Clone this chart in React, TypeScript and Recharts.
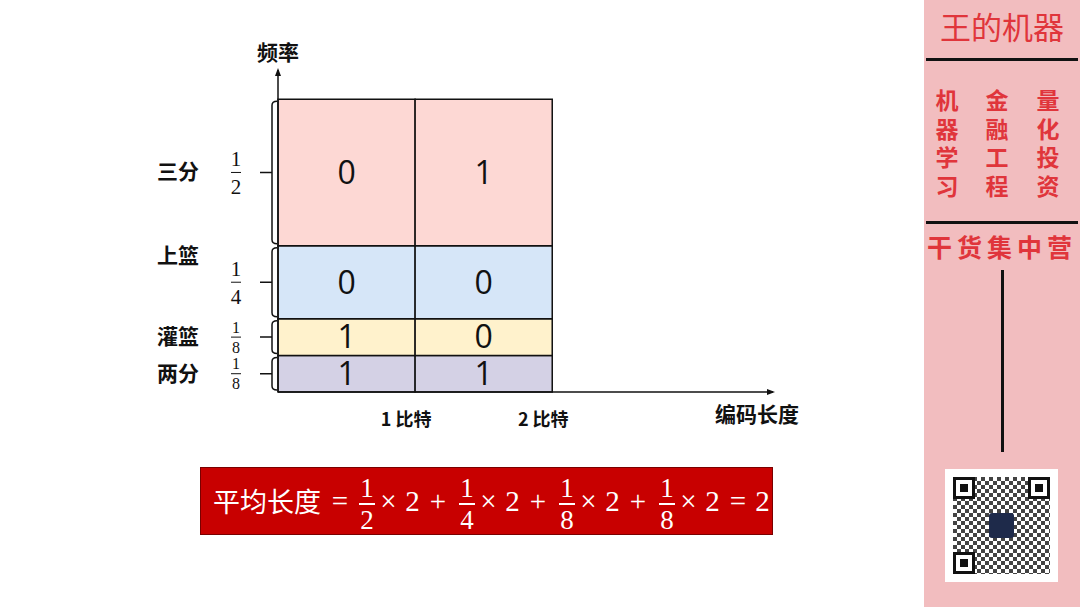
import React from 'react';
import { ComposedChart, XAxis, YAxis, ReferenceArea, ReferenceDot } from 'recharts';

// rows listed bottom -> top
const categories = ['两分', '灌篮', '上篮', '三分'];
const frequencies = [1 / 8, 1 / 8, 1 / 4, 1 / 2];
const freqNumerators = ['1', '1', '1', '1'];
const freqDenominators = ['8', '8', '4', '2'];
const firstBit = ['1', '1', '0', '0'];
const secondBit = ['1', '0', '0', '1'];
const codeLengths = [2, 2, 2, 2];
const bitTicks = [1, 2];
const bitTickLabels = ['1 比特', '2 比特'];

const rowColors = ['#D4D1E5', '#FFF2CC', '#D6E6F8', '#FDD8D4'];
const X_MAX = 3.61;
const Y_MAX = 1.1;
const CJK = '"Noto Sans CJK SC", "Noto Sans", sans-serif';
const MATH = '"Liberation Serif", "DejaVu Serif", serif';

const rowStarts = frequencies.map((_, i) => frequencies.slice(0, i).reduce((a, b) => a + b, 0));
const rows = categories.map((name, i) => ({
  name,
  y1: rowStarts[i],
  y2: rowStarts[i] + frequencies[i],
  bits: [firstBit[i], secondBit[i]],
}));
const avgLength = frequencies.reduce((s, f, i) => s + f * codeLengths[i], 0);

const BitTick = (props: any) => {
  const { x, y, payload } = props;
  const idx = bitTicks.indexOf(payload.value);
  return (
    <text x={x - 9} y={y + 32} textAnchor="middle" fontSize={18} fontWeight="bold" fontFamily={CJK} fill="#111">
      {bitTickLabels[idx]}
    </text>
  );
};

// bracket + fraction + category name, left of each row
const rowAnnotation = (i: number) => (props: any) => {
  const { x, y, height } = props;
  const top = y + 2;
  const bottom = y + height - 2;
  const mid = y + height / 2;
  const bx = x - 6;
  const big = frequencies[i] > 0.2;
  const fs = big ? 21 : 16;
  const gap = big ? 14 : 10;
  const nameY = i === 2 ? y + 10 : mid;
  return (
    <g>
      <path
        d={`M${bx + 5},${top} Q${bx},${top} ${bx},${top + 4} L${bx},${bottom - 4} Q${bx},${bottom} ${bx + 5},${bottom} M${bx},${mid} L${bx - 12},${mid}`}
        stroke="#111"
        strokeWidth={1.5}
        fill="none"
      />
      <text x={x - 42} y={mid - gap + fs * 0.35} textAnchor="middle" fontSize={fs} fontFamily={MATH} fill="#111">
        {freqNumerators[i]}
      </text>
      <line x1={x - 47} x2={x - 37} y1={mid} y2={mid} stroke="#111" strokeWidth={1} />
      <text x={x - 42} y={mid + gap + fs * 0.35} textAnchor="middle" fontSize={fs} fontFamily={MATH} fill="#111">
        {freqDenominators[i]}
      </text>
      <text x={x - 100} y={nameY + 7} textAnchor="middle" fontSize={21} fontWeight="bold" fontFamily={CJK} fill="#111">
        {categories[i]}
      </text>
    </g>
  );
};

const box = (w: number, ml: number): React.CSSProperties => ({
  display: 'inline-block',
  width: w,
  marginLeft: ml,
  textAlign: 'center',
  lineHeight: '30px',
});

const Frac = ({ n, d, ml }: { n: string; d: string; ml: number }) => (
  <span style={{ display: 'inline-flex', flexDirection: 'column', alignItems: 'center', width: 20, marginLeft: ml, marginTop: 6, fontSize: 27 }}>
    <span style={{ lineHeight: '26px', height: 26 }}>{n}</span>
    <span style={{ width: 16, height: 1.5, background: '#fff', margin: '2px 0' }} />
    <span style={{ lineHeight: '26px', height: 26 }}>{d}</span>
  </span>
);

const order = [3, 2, 1, 0];

const Formula = () => (
  <div
    style={{
      position: 'absolute',
      left: 200,
      top: 467,
      width: 573,
      height: 68,
      background: '#C80000',
      border: '1px solid #7A0000',
      boxSizing: 'border-box',
      color: '#fff',
      display: 'flex',
      alignItems: 'center',
      paddingLeft: 12,
      fontFamily: MATH,
      fontSize: 29,
      whiteSpace: 'nowrap',
    }}
  >
    <span style={{ fontFamily: CJK, fontSize: 27, lineHeight: '30px', width: 108, display: 'inline-block' }}>平均长度</span>
    <span style={box(20, 9)}>=</span>
    {order.map((i, k) => (
      <React.Fragment key={i}>
        <Frac n={freqNumerators[i]} d={freqDenominators[i]} ml={k === 0 ? 7 : 9} />
        <span style={box(17, 3)}>×</span>
        <span style={box(15, 8)}>{codeLengths[i]}</span>
        <span style={box(20, 8)}>{k < order.length - 1 ? '+' : '='}</span>
      </React.Fragment>
    ))}
    <span style={box(15, 7)}>{avgLength}</span>
  </div>
);

const sideRed = '#E0353B';
const columns = [
  ['机', '器', '学', '习'],
  ['金', '融', '工', '程'],
  ['量', '化', '投', '资'],
];
const columnCenters = [23, 73, 124];

const Finder = ({ left, top }: { left: number; top: number }) => (
  <div style={{ position: 'absolute', left, top, width: 22, height: 22, background: '#fff', border: '3px solid #111', boxSizing: 'border-box' }}>
    <div style={{ position: 'absolute', left: 4, top: 4, width: 8, height: 8, background: '#111' }} />
  </div>
);

const Sidebar = () => (
  <div style={{ position: 'absolute', left: 924, top: 0, width: 156, height: 607, background: '#F2BDBF', fontFamily: CJK }}>
    <div style={{ position: 'absolute', top: 6, width: '100%', textAlign: 'center', fontSize: 31, color: sideRed, lineHeight: '40px' }}>
      王的机器
    </div>
    <div style={{ position: 'absolute', top: 58, left: 2, right: 2, height: 3, background: '#111' }} />
    {columns.map((col, c) => (
      <div key={c} style={{ position: 'absolute', top: 85, left: columnCenters[c] - 15, width: 30, textAlign: 'center' }}>
        {col.map((ch) => (
          <div key={ch} style={{ fontSize: 23, lineHeight: '28.5px', height: 28.5, color: sideRed, fontWeight: 'bold' }}>
            {ch}
          </div>
        ))}
      </div>
    ))}
    <div style={{ position: 'absolute', top: 221, left: 2, right: 2, height: 3, background: '#111' }} />
    <div style={{ position: 'absolute', top: 230, left: 2, width: 152, textAlign: 'center', fontSize: 25, lineHeight: '32px', letterSpacing: 5, color: sideRed, fontWeight: 'bold' }}>
      干货集中营
    </div>
    <div style={{ position: 'absolute', top: 270, left: 77, width: 3, height: 182, background: '#111' }} />
    <div style={{ position: 'absolute', top: 469, left: 21, width: 113, height: 113, background: '#fff' }}>
      <div
        style={{
          position: 'absolute',
          left: 8,
          top: 8,
          width: 97,
          height: 97,
          background: 'repeating-conic-gradient(#222 0% 25%, #fff 0% 50%) 0 0 / 8px 8px',
          opacity: 0.85,
        }}
      />
      <Finder left={8} top={8} />
      <Finder left={83} top={8} />
      <Finder left={8} top={83} />
      <div style={{ position: 'absolute', left: 44, top: 44, width: 25, height: 25, background: '#1E2A4A', borderRadius: 3 }} />
    </div>
  </div>
);

export default function App() {
  return (
    <div style={{ position: 'fixed', left: 0, top: 0, width: 1080, height: 607, background: '#fff', overflow: 'hidden' }}>
      <ComposedChart width={1080} height={607} data={rows} margin={{ top: 70, right: 307, left: 277, bottom: 185 }}>
        <XAxis
          type="number"
          dataKey="y1"
          domain={[0, X_MAX]}
          ticks={bitTicks}
          tick={<BitTick />}
          tickLine={false}
          tickSize={0}
          height={30}
          axisLine={{ stroke: '#111', strokeWidth: 1.5 }}
          allowDataOverflow
        />
        <YAxis type="number" domain={[0, Y_MAX]} tick={false} tickLine={false} width={1} axisLine={{ stroke: '#111', strokeWidth: 1.5 }} allowDataOverflow />
        {rows.map((r, i) =>
          bitTicks.map((b, j) => (
            <ReferenceArea
              key={`${i}-${j}`}
              x1={b - 1}
              x2={b}
              y1={r.y1}
              y2={r.y2}
              fill={rowColors[i]}
              fillOpacity={1}
              stroke="#111"
              strokeWidth={1.5}
              label={{ value: r.bits[j], position: 'center', fontSize: 32, fill: '#111', fontFamily: '"Open Sans", sans-serif' }}
            />
          ))
        )}
        {rows.map((r, i) => (
          <ReferenceArea key={`a${i}`} x1={0} x2={1} y1={r.y1} y2={r.y2} shape={rowAnnotation(i)} />
        ))}
        <ReferenceDot
          x={0}
          y={Y_MAX}
          ifOverflow="visible"
          shape={(p: any) => (
            <g>
              <path d={`M${p.cx},${p.cy - 2} L${p.cx - 3},${p.cy + 6} L${p.cx + 3},${p.cy + 6} Z`} fill="#111" />
              <text x={p.cx} y={p.cy - 10} textAnchor="middle" fontSize={21} fontWeight="bold" fontFamily={CJK} fill="#111">
                频率
              </text>
            </g>
          )}
        />
        <ReferenceDot
          x={X_MAX}
          y={0}
          ifOverflow="visible"
          shape={(p: any) => (
            <g>
              <path d={`M${p.cx + 2},${p.cy} L${p.cx - 6},${p.cy - 3} L${p.cx - 6},${p.cy + 3} Z`} fill="#111" />
              <text x={p.cx - 16} y={p.cy + 30} textAnchor="middle" fontSize={21} fontWeight="bold" fontFamily={CJK} fill="#111">
                编码长度
              </text>
            </g>
          )}
        />
      </ComposedChart>
      <Formula />
      <Sidebar />
    </div>
  );
}
